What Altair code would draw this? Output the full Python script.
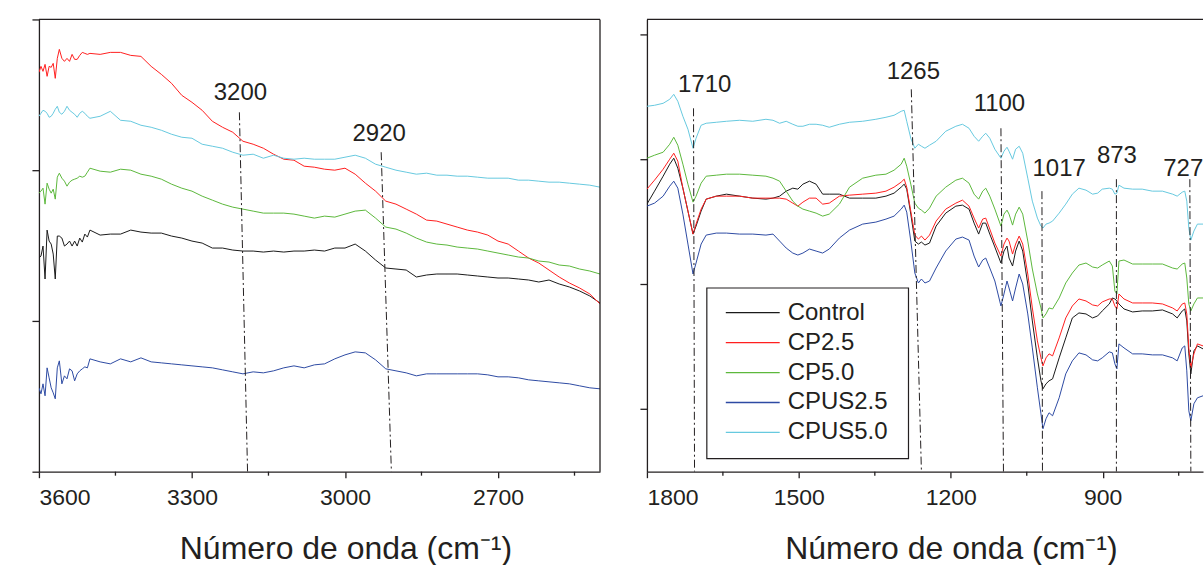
import altair as alt
import pandas as pd

SERIES = ["Control", "CP2.5", "CP5.0", "CPUS2.5", "CPUS5.0"]
COLORS = ["#1a1a1a", "#ff1f1f", "#5cb83c", "#2d4aa3", "#66c9df"]
INK = "#231f20"
FONT = "Liberation Sans"

# ---------------- left panel (3600-2500 cm-1) ----------------
wn_left = [3600, 3596, 3592, 3588, 3584, 3580, 3576, 3572, 3568, 3564, 3560, 3555,
           3550, 3545, 3540, 3535, 3530, 3525, 3520, 3515, 3510, 3505, 3500,
           3480, 3460, 3440, 3420, 3400, 3380, 3360, 3340, 3320, 3300, 3280, 3260, 3240,
           3220, 3200, 3180, 3160, 3140, 3120, 3100, 3080, 3060, 3040, 3020, 3000, 2980,
           2960, 2940, 2920, 2900, 2880,
           2860, 2840, 2820, 2800, 2780, 2760, 2740, 2720, 2700, 2680, 2660, 2640, 2620,
           2600, 2580, 2560, 2540, 2520, 2500]

control_left = [21.4, 21.6, 22.6, 19.3, 24.2, 23.1, 22.8, 21.8, 19.3, 23.6, 23.6, 23.4,
                22.6, 22.8, 23.1, 22.6, 23.1, 22.6, 23.4, 23.0, 23.8, 23.5, 24.2,
                23.7, 23.8, 23.8, 24.2, 24.0, 23.9, 23.9, 23.6, 23.4, 23.1, 22.9, 22.4, 22.4,
                22.2, 22.1, 22.1, 22.0, 22.1, 22.0, 22.1, 22.1, 22.2, 22.1, 22.4, 22.4, 22.8,
                22.1, 21.2, 20.4, 20.3, 20.2,
                19.5, 19.7, 19.8, 19.8, 19.8, 19.7, 19.6, 19.5, 19.4, 19.4, 19.3, 19.2, 19.0,
                19.2, 18.8, 18.5, 18.1, 17.6, 16.9]
cp25_left = [40.0, 40.6, 40.1, 40.8, 39.6, 40.6, 40.5, 40.9, 39.4, 41.4, 42.3, 41.4,
             41.1, 41.4, 41.1, 41.8, 41.3, 41.3, 41.7, 42.0, 41.9, 41.8, 41.9,
             41.8, 42.0, 42.0, 41.7, 41.6, 40.6, 39.8, 38.9, 37.7, 37.0, 36.2, 35.1, 34.5,
             34.0, 33.1, 32.8, 32.4, 31.8, 31.3, 31.2, 30.6, 30.5, 30.3, 30.2, 30.4, 29.8,
             28.9, 28.1, 27.1, 26.8, 26.3,
             25.8, 25.2, 25.1, 24.8, 24.5, 24.2, 24.0, 23.7, 23.1, 22.8, 22.1, 21.4, 20.9,
             20.2, 19.5, 18.9, 18.4, 17.8, 16.8]
cp50_left = [27.9, 28.1, 28.4, 26.8, 28.9, 28.3, 27.9, 28.3, 27.3, 29.5, 29.9, 29.4,
             29.1, 28.6, 29.0, 29.2, 29.3, 29.4, 29.6, 29.5, 29.6, 30.0, 30.4,
             30.1, 30.0, 30.3, 30.2, 29.8, 29.6, 29.3, 28.8, 28.4, 28.1, 27.6, 27.2, 26.8,
             26.5, 26.3, 26.1, 25.9, 25.9, 25.9, 25.8, 25.6, 25.4, 25.6, 25.5, 25.8, 26.1,
             26.2, 25.4, 24.5, 24.3, 23.9,
             23.4, 23.0, 22.8, 22.7, 22.5, 22.4, 22.3, 22.1, 21.9, 21.7, 21.5, 21.4, 21.1,
             21.0, 20.7, 20.6, 20.3, 20.1, 19.8]
cpus25_left = [8.4, 7.8, 8.8, 7.6, 10.4, 9.4, 8.4, 7.9, 7.3, 10.4, 11.1, 8.8,
               9.6, 9.3, 10.3, 10.1, 9.1, 9.8, 10.1, 10.3, 10.5, 10.4, 11.3,
               11.0, 10.8, 11.3, 11.0, 11.4, 11.0, 10.9, 10.8, 10.7, 10.6, 10.5, 10.4, 10.2,
               10.0, 9.8, 10.0, 9.9, 10.1, 10.4, 10.6, 10.4, 10.7, 10.8, 11.3, 11.7, 12.0,
               11.9, 11.2, 10.3, 10.1, 9.9,
               9.6, 9.8, 9.8, 9.8, 9.8, 9.8, 9.8, 9.7, 9.5, 9.5, 9.4, 9.2, 9.1,
               9.0, 8.9, 8.8, 8.6, 8.4, 8.3]
cpus50_left = [35.6, 35.9, 36.2, 36.1, 35.9, 35.5, 35.6, 35.9, 36.3, 36.6, 36.0, 35.8,
               36.1, 36.6, 36.2, 36.0, 35.8, 35.5, 35.9, 36.1, 35.9, 35.6, 35.4,
               35.6, 36.1, 35.2, 35.1, 34.7, 34.5, 34.2, 33.8, 33.5, 33.4, 32.8, 32.6, 32.4,
               32.0, 31.7, 31.8, 31.4, 31.7, 31.4, 31.3, 31.4, 31.3, 31.3, 31.3, 31.5, 31.7,
               31.4, 30.8, 30.5, 30.2, 30.0,
               29.8, 29.9, 29.7, 29.7, 29.6, 29.6, 29.5, 29.4, 29.4, 29.4, 29.2, 29.2, 29.1,
               29.0, 29.0, 28.9, 28.8, 28.7, 28.5]

# ---------------- right panel (1800-700 cm-1) ----------------
wn_right = [1800, 1785, 1768, 1755, 1747, 1739, 1729, 1719, 1709, 1703, 1693, 1683, 1663, 1643,
            1617, 1591, 1565, 1551, 1538, 1525, 1512, 1502, 1492, 1479, 1466, 1453, 1440,
            1420, 1400, 1374, 1348, 1328, 1312, 1298, 1292, 1287, 1279, 1271, 1264, 1258, 1251,
            1242, 1229, 1210, 1190, 1177, 1164, 1154, 1145, 1137, 1131, 1123, 1113, 1101, 1095, 1089,
            1085, 1078, 1072, 1065, 1058, 1048, 1039, 1029, 1022, 1018, 1012, 1006, 999, 986,
            973, 960, 947, 933, 920, 910, 901, 887, 881, 876, 872, 868, 858, 841, 822, 802,
            782, 762, 753, 743, 738, 734, 730, 726, 720, 713, 702]

control_right = [26.8, 28.1, 29.6, 30.8, 31.4, 30.4, 28.4, 26.1, 23.8, 24.6, 26.1, 27.3, 27.6, 27.8,
                 27.6, 27.4, 27.3, 27.4, 27.6, 28.1, 28.4, 28.3, 28.8, 29.1, 28.8, 27.8, 27.8,
                 27.8, 27.4, 27.4, 27.4, 27.6, 27.9, 28.5, 28.8, 28.3, 25.8, 23.1, 22.8, 23.0, 22.7,
                 22.9, 24.6, 25.9, 26.6, 26.7, 26.3, 24.9, 23.8, 24.9, 24.9, 23.8, 22.5, 20.9, 22.1, 22.6,
                 21.4, 20.6, 22.1, 23.1, 22.1, 18.8, 15.1, 11.4, 9.1, 8.3, 8.8, 9.1, 9.3, 11.4,
                 13.4, 15.4, 15.9, 15.8, 15.4, 15.6, 16.1, 16.8, 17.4, 17.3, 17.1, 16.8, 16.3, 16.0, 16.1, 16.1,
                 16.2, 15.8, 15.4, 16.1, 16.3, 15.1, 11.8, 9.8, 12.1, 12.6, 12.3]
cp25_right = [28.3, 29.2, 30.3, 31.3, 31.9, 31.1, 28.4, 26.1, 23.8, 24.8, 26.3, 27.3, 27.6, 27.6,
              27.6, 27.4, 27.4, 27.4, 27.4, 27.3, 26.9, 26.6, 27.0, 27.4, 27.4, 26.8, 26.9,
              27.6, 27.7, 27.8, 27.9, 28.1, 28.5, 29.0, 29.3, 28.5, 26.1, 23.7, 23.3, 23.6, 23.2,
              23.7, 25.1, 26.3, 26.9, 27.2, 26.6, 25.4, 24.4, 25.3, 25.4, 24.3, 22.9, 21.6, 22.8, 23.4,
              23.1, 21.8, 22.8, 23.6, 22.8, 19.8, 16.4, 13.1, 11.4, 10.6, 11.4, 11.8, 11.6, 13.4,
              15.4, 16.6, 17.3, 17.1, 16.7, 16.6, 17.0, 17.3, 17.3, 16.6, 16.3, 17.8, 17.3, 16.9, 16.9, 16.9,
              16.8, 16.4, 16.1, 16.8, 16.9, 15.8, 12.4, 10.4, 11.8, 12.8, 12.6]
cp50_right = [31.4, 31.7, 32.0, 32.8, 33.5, 32.7, 30.8, 28.8, 27.0, 27.6, 28.9, 29.6, 29.7, 29.8,
              29.8, 29.7, 29.6, 29.4, 29.1, 28.1, 27.1, 26.6, 26.3, 26.1, 25.9, 25.6, 25.8,
              26.8, 28.5, 29.4, 29.7, 29.8, 30.2, 30.8, 31.4, 30.6, 28.8, 26.9, 26.4, 26.2, 25.9,
              26.4, 27.6, 28.5, 29.2, 29.4, 28.9, 27.8, 27.3, 28.1, 28.4, 27.6, 26.3, 24.6, 25.8, 26.2,
              25.8, 24.7, 25.8, 26.5, 25.8, 23.1, 20.3, 17.8, 16.4, 15.4, 15.8, 16.4, 16.3, 17.4,
              18.9, 19.9, 20.7, 20.9, 20.5, 20.4, 20.7, 21.1, 20.6, 18.1, 17.8, 21.1, 21.2, 20.8, 20.8, 20.8,
              20.8, 20.4, 20.3, 20.8, 20.9, 19.4, 16.8, 16.1, 16.8, 17.4, 17.4]
cpus25_right = [26.6, 26.9, 27.6, 28.6, 29.1, 28.4, 25.8, 22.8, 19.8, 20.9, 22.8, 23.7, 23.9, 23.9,
                23.8, 23.8, 23.7, 23.8, 23.1, 22.4, 21.9, 21.7, 21.9, 22.3, 22.1, 21.9, 22.3,
                23.4, 24.2, 24.8, 25.0, 25.3, 25.6, 26.3, 26.7, 26.0, 23.1, 19.9, 18.9, 19.3, 18.9,
                19.1, 20.4, 22.1, 23.3, 23.5, 23.2, 21.6, 20.5, 21.2, 21.4, 20.4, 19.1, 16.6, 17.8, 19.1,
                18.4, 17.1, 18.4, 19.8, 18.8, 15.8, 12.4, 8.4, 5.8, 4.3, 5.3, 5.9, 5.6, 7.4,
                9.8, 11.1, 11.9, 11.7, 11.2, 11.1, 11.4, 12.0, 11.9, 10.8, 10.3, 12.8, 12.4, 11.8, 11.8, 11.7,
                11.7, 11.4, 11.1, 12.4, 12.6, 10.1, 6.1, 5.1, 6.8, 7.4, 7.6]
cpus50_right = [36.6, 36.7, 36.9, 37.3, 37.8, 37.1, 35.6, 34.3, 32.4, 33.4, 34.7, 34.9, 35.0, 35.1,
                35.2, 35.1, 35.3, 35.2, 34.9, 35.1, 34.8, 34.6, 34.6, 34.8, 34.8, 34.7, 34.5,
                34.8, 35.0, 35.1, 35.3, 35.5, 35.7, 36.1, 36.2, 35.1, 33.4, 32.4, 32.8, 32.6, 32.4,
                32.7, 33.1, 34.1, 34.6, 34.8, 34.4, 33.6, 33.1, 33.6, 33.9, 33.4, 32.3, 31.4, 32.1, 32.5,
                32.1, 31.3, 32.3, 32.6, 31.9, 29.4, 27.1, 25.4, 24.6, 24.4, 24.8, 24.9, 25.1, 25.9,
                26.8, 27.8, 28.4, 28.2, 27.8, 27.9, 28.3, 28.4, 28.3, 27.8, 27.9, 28.7, 28.4, 28.3, 28.3, 28.1,
                28.1, 27.8, 27.6, 28.0, 28.1, 27.1, 24.4, 23.2, 24.1, 24.8, 24.8]

# ---------------- band annotations ----------------
ann_left_labels = ["3200", "2920"]
ann_left_top_wn = [3207, 2929]
ann_left_bot_wn = [3191, 2909]
ann_left_top_T = [36.0, 32.0]
ann_left_text_wn = [3205, 2933]
ann_left_text_T = [37.9, 33.8]

ann_right_labels = ["1710", "1265", "1100", "1017", "873", "727"]
ann_right_top_wn = [1708, 1278, 1101, 1020, 873, 728]
ann_right_bot_wn = [1706, 1258, 1096, 1019, 873, 726]
ann_right_top_T = [36.4, 38.3, 34.4, 28.1, 29.3, 29.3]
ann_right_text_wn = [1686, 1274, 1104, 986, 872, 741]
ann_right_text_T = [38.7, 40.0, 36.8, 30.3, 31.6, 30.3]

left_major = [3600, 3300, 3000, 2700]
left_minor = [3450, 3150, 2850, 2550]
right_major = [1800, 1500, 1200, 900]
right_minor = [1650, 1350, 1050, 750]
left_yticks = [0, 15.1, 30.2, 45.3]
right_yticks = [6.3, 18.8, 31.3, 43.8]

X_TITLE = "Número de onda (cm⁻¹)"
H = 453
W_L = 562
W_R = 557


def long_df(wn, cols):
    rows = []
    for name, vals in zip(SERIES, cols):
        assert len(vals) == len(wn), (name, len(vals), len(wn))
        for w, v in zip(wn, vals):
            rows.append({"wn": w, "T": v, "series": name})
    return pd.DataFrame(rows)


def panel(df, domain, width, major, minor, yticks, labels, top_wn, bot_wn, top_T,
          text_wn, text_T, box_right, legend):
    xscale = alt.Scale(domain=domain, nice=False, zero=False)
    yscale = alt.Scale(domain=[0, 45.3], nice=False, zero=False)
    lines = alt.Chart(df).mark_line(strokeWidth=1.0, clip=True).encode(
        x=alt.X("wn:Q", scale=xscale,
                axis=alt.Axis(values=major, format="d", title=X_TITLE, tickSize=6,
                              labelPadding=9, titleX=width / 2 + 26, titleY=87,
                              titleBaseline="alphabetic", titleAlign="center")),
        y=alt.Y("T:Q", scale=yscale,
                axis=alt.Axis(values=yticks, labels=False, title=None, tickSize=7)),
        color=alt.Color("series:N", scale=alt.Scale(domain=SERIES, range=COLORS), legend=None),
    )
    minor_df = pd.DataFrame({"wn": minor})
    minor_ticks = alt.Chart(minor_df).mark_rule(color=INK, strokeWidth=1.3).encode(
        x="wn:Q", y=alt.value(H), y2=alt.value(H + 4))
    ann_df = pd.DataFrame({"label": labels, "wn": top_wn, "wn2": bot_wn,
                           "T": top_T, "T2": [0] * len(labels)})
    ann = alt.Chart(ann_df).mark_rule(color=INK, strokeWidth=1.0,
                                      strokeDash=[8, 3, 2, 3], clip=True).encode(
        x="wn:Q", x2="wn2:Q", y="T:Q", y2="T2:Q")
    txt_df = pd.DataFrame({"label": labels, "wn": text_wn, "T": text_T})
    txt = alt.Chart(txt_df).mark_text(font=FONT, fontSize=24, color=INK, align="center",
                                      baseline="middle", clip=True).encode(
        x="wn:Q", y="T:Q", text="label:N")
    one = alt.Data(values=[{"k": 1}])
    top = alt.Chart(one).mark_rule(color=INK, strokeWidth=1.3).encode(
        x=alt.value(0), x2=alt.value(width), y=alt.value(0))
    layers = [lines, minor_ticks, ann, txt, top]
    if box_right:
        layers.append(alt.Chart(one).mark_rule(color=INK, strokeWidth=1.3).encode(
            x=alt.value(width), y=alt.value(0), y2=alt.value(H)))
    if legend:
        layers.append(alt.Chart(one).mark_rect(fill="white", stroke=INK, strokeWidth=1.2).encode(
            x=alt.value(60), x2=alt.value(262), y=alt.value(269), y2=alt.value(440)))
        for i, (name, col) in enumerate(zip(SERIES, COLORS)):
            yrow = 293.7 + 30 * i
            d = alt.Data(values=[{"s": name}])
            layers.append(alt.Chart(d).mark_rule(color=col, strokeWidth=1.3).encode(
                x=alt.value(79), x2=alt.value(133), y=alt.value(yrow)))
            layers.append(alt.Chart(d).mark_text(font=FONT, fontSize=24, color=INK,
                                                 align="left", baseline="middle").encode(
                x=alt.value(141), y=alt.value(yrow), text="s:N"))
    return alt.layer(*layers).properties(width=width, height=H)


left = panel(long_df(wn_left, [control_left, cp25_left, cp50_left, cpus25_left, cpus50_left]),
             [3600, 2500], W_L, left_major, left_minor, left_yticks,
             ann_left_labels, ann_left_top_wn, ann_left_bot_wn, ann_left_top_T,
             ann_left_text_wn, ann_left_text_T, True, False)
right = panel(long_df(wn_right, [control_right, cp25_right, cp50_right, cpus25_right, cpus50_right]),
              [1800, 702], W_R, right_major, right_minor, right_yticks,
              ann_right_labels, ann_right_top_wn, ann_right_bot_wn, ann_right_top_T,
              ann_right_text_wn, ann_right_text_T, False, True)

chart = alt.hconcat(left, right, spacing=47, bounds="flush").properties(
    padding={"left": 31, "top": 18, "right": 0, "bottom": 0},
    background="white",
).configure_view(stroke=None).configure_axis(
    domainColor=INK, domainWidth=1.3, tickColor=INK, tickWidth=1.3,
    labelFont=FONT, labelFontSize=23, labelColor=INK,
    titleFont=FONT, titleFontSize=32, titleFontWeight="normal", titleColor=INK,
    grid=False,
)

chart.save("out.html", embed_options={"renderer": "svg", "actions": False})
